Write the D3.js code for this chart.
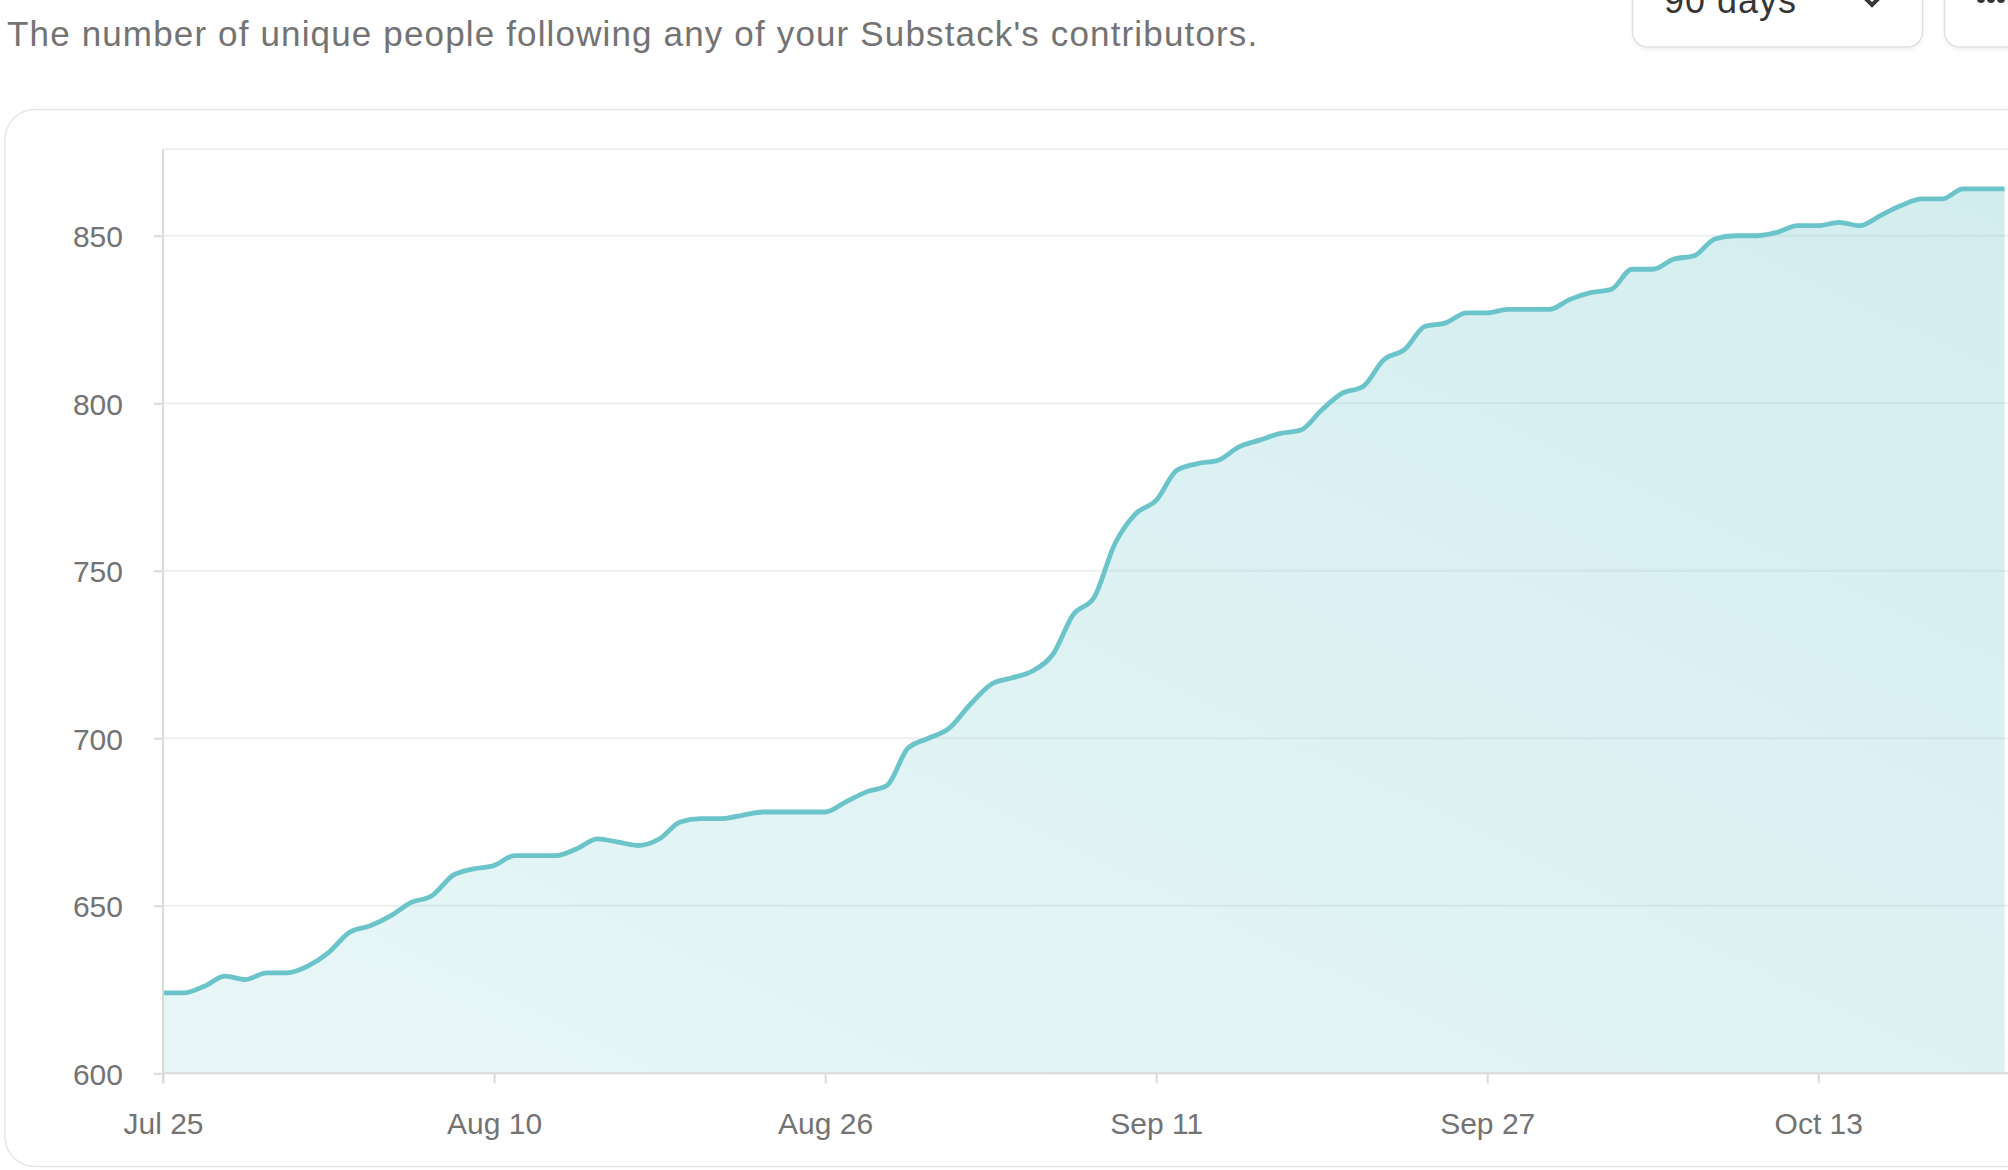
<!DOCTYPE html>
<html><head><meta charset="utf-8">
<script src="https://cdn.jsdelivr.net/npm/d3@7"></script>
<style>
html,body{margin:0;padding:0;background:#fff;overflow:hidden;}
svg{display:block;font-family:"Liberation Sans",Arial,sans-serif;}
</style></head><body>
<svg id="c" width="2008" height="1170"></svg>
<script>
const titleText = "The number of unique people following any of your Substack's contributors.";
const rangeLabel = "90 days";
const startDate = "2023-07-25";
const values = [
  624,624,626,629,628,630,630,632,636,642,644,647,651,653,659,661,
  662,665,665,665,667,670,669,668,670,675,676,676,677,678,678,678,
  678,681,684,686,697,700,703,710,716,718,720,725,737,742,758,
  767,771,780,782,783,787,789,791,792,798,803,805,813,816,823,
  824,827,827,828,828,828,831,833,834,840,840,843,844,849,
  850,850,851,853,853,854,853,856,859,861,861,864,864,864
];
const yTicks = [600,650,700,750,800,850];
const xTickLabels = ["Jul 25","Aug 10","Aug 26","Sep 11","Sep 27","Oct 13"];

const parse = d3.timeParse("%Y-%m-%d");
const t0 = parse(startDate);
const dates = values.map((v,i)=>d3.timeDay.offset(t0,i));
const data = values.map((v,i)=>({date:dates[i], value:v}));
const fmt = d3.timeFormat("%b %-d");
const xTickDates = dates.filter(d=>xTickLabels.includes(fmt(d)));

const svg = d3.select("#c");
const L=163, R=2004.5, T=149.3, B=1073.3;
const x = d3.scaleTime().domain([dates[0], dates[dates.length-1]]).range([L,R]);
const y = d3.scaleLinear().domain([600,875.8]).range([B,T]);

const defs = svg.append("defs");
const g1 = defs.append("linearGradient").attr("id","fillg")
  .attr("x1","0").attr("y1","1").attr("x2","1").attr("y2","0");
g1.append("stop").attr("offset","0").attr("stop-color","#6cc4cb").attr("stop-opacity",0.15);
g1.append("stop").attr("offset","1").attr("stop-color","#6cc4cb").attr("stop-opacity",0.3);
const sh = defs.append("filter").attr("id","sh").attr("x","-10%").attr("y","-10%").attr("width","120%").attr("height","140%");
sh.append("feDropShadow").attr("dx",0).attr("dy",2).attr("stdDeviation",2).attr("flood-color","#000").attr("flood-opacity",0.06);

// title
svg.append("text").attr("x",7).attr("y",46).attr("font-size",35).attr("letter-spacing",1.15)
  .attr("fill","#737373").text(titleText);

// dropdown boxes
svg.append("rect").attr("x",1632.5).attr("y",-40).attr("width",290).attr("height",87).attr("rx",15)
  .attr("fill","#fff").attr("stroke","#e0e0e0").attr("stroke-width",1.5).attr("filter","url(#sh)");
svg.append("text").attr("x",1664).attr("y",13).attr("font-size",36).attr("letter-spacing",1)
  .attr("fill","#363636").text(rangeLabel);
svg.append("path").attr("d","M1864,-3 L1872,5 L1880,-3").attr("fill","none").attr("stroke","#363636").attr("stroke-width",4).attr("stroke-linecap","round");
svg.append("rect").attr("x",1944.5).attr("y",-40).attr("width",200).attr("height",87).attr("rx",15)
  .attr("fill","#fff").attr("stroke","#e0e0e0").attr("stroke-width",1.5).attr("filter","url(#sh)");
[1981,1991,2001].forEach(cx=>svg.append("circle").attr("cx",cx).attr("cy",-1).attr("r",4).attr("fill","#363636"));

// card
svg.append("rect").attr("x",5).attr("y",109.5).attr("width",2100).attr("height",1057).attr("rx",30)
  .attr("fill","#fff").attr("stroke","#e6e6e6").attr("stroke-width",1.5);

// gridlines
svg.append("g").selectAll("line").data(yTicks.filter(v=>v>600)).join("line")
  .attr("x1",L).attr("x2",2010).attr("y1",d=>y(d)).attr("y2",d=>y(d))
  .attr("stroke","#efefef").attr("stroke-width",2);
svg.append("line").attr("x1",L).attr("x2",2010).attr("y1",T).attr("y2",T).attr("stroke","#efefef").attr("stroke-width",2);

// area + line
const area = d3.area().x(d=>x(d.date)).y0(B).y1(d=>y(d.value)).curve(d3.curveMonotoneX);
const line = d3.line().x(d=>x(d.date)).y(d=>y(d.value)).curve(d3.curveMonotoneX);
svg.append("path").datum(data).attr("d",area).attr("fill","url(#fillg)");
svg.append("path").datum(data).attr("d",line).attr("fill","none").attr("stroke","#6cc4cb").attr("stroke-width",4.8).attr("stroke-linejoin","round");

// axes
const yAxis = svg.append("g").attr("transform",`translate(${L},0)`)
  .call(d3.axisLeft(y).tickValues(yTicks).tickSize(9).tickPadding(31).tickFormat(d3.format("d")));
yAxis.select(".domain").remove();
svg.append("line").attr("x1",L).attr("x2",L).attr("y1",T).attr("y2",B+10).attr("stroke","#dadada").attr("stroke-width",2);
const xAxis = svg.append("g").attr("transform",`translate(0,${B})`)
  .call(d3.axisBottom(x).tickValues(xTickDates).tickSize(10).tickPadding(29).tickFormat(fmt));
xAxis.select(".domain").remove();
svg.append("line").attr("x1",L).attr("x2",2010).attr("y1",B).attr("y2",B).attr("stroke","#dadada").attr("stroke-width",2);
[yAxis,xAxis].forEach(a=>{
  a.selectAll(".tick line").attr("stroke","#dadada").attr("stroke-width",2);
  a.selectAll(".tick text").attr("fill","#737373").attr("font-size",30).attr("font-family","Liberation Sans, Arial, sans-serif");
});
yAxis.selectAll(".tick text").attr("dy","0.36em");
xAxis.selectAll(".tick text").attr("dy","0.72em");
</script>
</body></html>
